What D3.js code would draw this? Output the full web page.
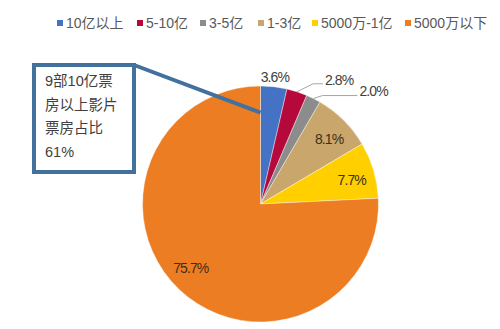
<!DOCTYPE html>
<html>
<head>
<meta charset="utf-8">
<script src="https://cdn.jsdelivr.net/npm/d3@7"></script>
<style>
  html, body { margin: 0; padding: 0; background: #fff; }
  svg text { font-family: "Liberation Sans", Arial, "Noto Sans CJK SC", sans-serif; }
</style>
</head>
<body>
<svg id="chart" width="500" height="329"></svg>
<script>
// Box-office share by film revenue tier
const categories = ["10亿以上", "5-10亿", "3-5亿", "1-3亿", "5000万-1亿", "5000万以下"];
const shares = [3.6, 2.8, 2.0, 8.1, 7.7, 75.7];
const colors = ["#4472C4", "#B5093C", "#8C8C8C", "#C9A66B", "#FFCF00", "#ED7D22"];
const calloutLines = ["9部10亿票", "房以上影片", "票房占比", "61%"];

const svg = d3.select("#chart");
const cx = 260.5, cy = 204, R = 118;

// Legend
const legendX = [57, 137, 200, 258, 312, 405];
const legend = svg.append("g");
categories.forEach((c, i) => {
  const g = legend.append("g").attr("transform", `translate(${legendX[i]},23)`);
  g.append("rect").attr("x", 0).attr("y", -3).attr("width", 6).attr("height", 6).attr("fill", colors[i]);
  g.append("text").attr("x", 9).attr("y", 0).attr("dy", "0.35em")
    .attr("font-size", 14).attr("fill", "#595959").text(c);
});

// Pie
const pie = d3.pie().sort(null).value(d => d)(shares);
const arc = d3.arc().innerRadius(0).outerRadius(R);
const g = svg.append("g").attr("transform", `translate(${cx},${cy})`);
g.selectAll("path.slice").data(pie).join("path")
  .attr("class", "slice")
  .attr("d", arc)
  .attr("fill", (d, i) => colors[i])
  .attr("stroke", "#fff").attr("stroke-width", 0.4);

const fmt = v => v.toFixed(1) + "%";
const mid = d => (d.startAngle + d.endAngle) / 2;
const pt = (a, r) => [Math.sin(a) * r, -Math.cos(a) * r];

// Label placement: inside for large slices, outside (with leaders) for thin ones
const labelMode = ["out", "leader", "leader", "in", "in", "in"];
const leaderElbow = [null, [16, -8], [9, -3], null, null, null];
const leaderRun = [null, 10, 35, null, null, null];

pie.forEach((d, i) => {
  const a = mid(d);
  const lbl = g.append("text")
    .attr("font-size", 14).attr("letter-spacing", -0.9)
    .attr("fill", labelMode[i] === "in" ? "#3d2f1c" : "#404040")
    .attr("dy", "0.35em")
    .text(fmt(shares[i]));
  if (labelMode[i] === "in") {
    const [x, y] = pt(a + (i === 5 ? 0.07 : 0.03), R * 0.8);
    lbl.attr("x", x).attr("y", y).attr("text-anchor", "middle");
  } else if (labelMode[i] === "out") {
    const [x, y] = pt(a, R * 1.08);
    lbl.attr("x", x).attr("y", y).attr("text-anchor", "middle");
  } else {
    const [sx, sy] = pt(a, R);
    const ex = sx + leaderElbow[i][0], ey = sy + leaderElbow[i][1];
    const tx = ex + leaderRun[i];
    g.append("polyline")
      .attr("points", `${sx},${sy} ${ex},${ey} ${tx},${ey}`)
      .attr("fill", "none").attr("stroke", "#A6A6A6").attr("stroke-width", 1);
    lbl.attr("x", tx + 2).attr("y", ey - 4).attr("text-anchor", "start");
  }
});

// Callout box
const box = { x: 34, y: 65, w: 100, h: 107 };
const anchor = pt(0, R * 0.775);
svg.append("line")
  .attr("x1", box.x + box.w).attr("y1", box.y)
  .attr("x2", cx + anchor[0]).attr("y2", cy + anchor[1])
  .attr("stroke", "#41719C").attr("stroke-width", 4);
svg.append("rect")
  .attr("x", box.x).attr("y", box.y).attr("width", box.w).attr("height", box.h)
  .attr("fill", "#fff").attr("stroke", "#41719C").attr("stroke-width", 4);
svg.append("g").selectAll("text").data(calloutLines).join("text")
  .attr("x", box.x + 11).attr("y", (d, i) => box.y + 16 + i * 23.5)
  .attr("dy", "0.35em")
  .attr("font-size", 14.5).attr("fill", "#404040")
  .text(d => d);
</script>
</body>
</html>
